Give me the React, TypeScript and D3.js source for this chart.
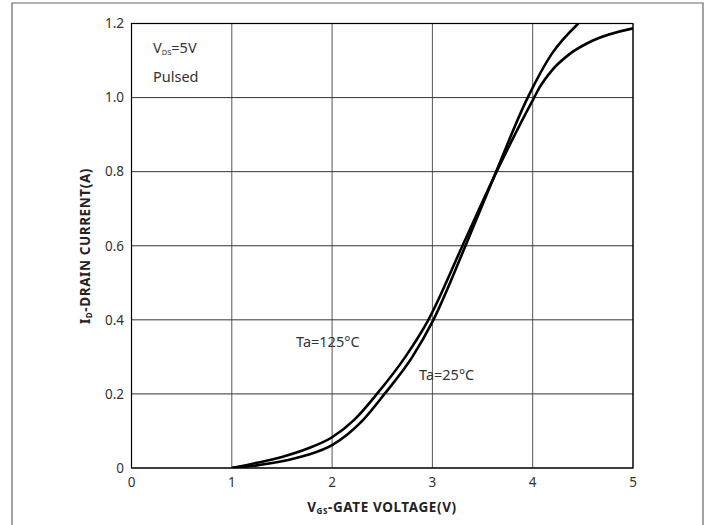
import React from "react";
import * as d3 from "d3";

const xTicks = [0, 1, 2, 3, 4, 5];
const yTicks = [0, 0.2, 0.4, 0.6, 0.8, 1.0, 1.2];
const yTickLabels = ["0", "0.2", "0.4", "0.6", "0.8", "1.0", "1.2"];

const vgs125 = [1.0, 1.25, 1.5, 1.75, 2.0, 2.22, 2.447, 2.73, 2.96, 3.3, 3.64, 4.014, 4.07, 4.19, 4.37, 4.6, 5.0];
const id125 = [0, 0.014, 0.03, 0.052, 0.083, 0.13, 0.2, 0.3, 0.4, 0.6, 0.8, 1.0, 1.028, 1.073, 1.118, 1.154, 1.187];

const vgs25 = [1.0, 1.25, 1.5, 1.75, 2.0, 2.31, 2.523, 2.8, 3.01, 3.33, 3.635, 3.95, 4.19, 4.455];
const id25 = [0, 0.007, 0.018, 0.035, 0.062, 0.13, 0.2, 0.3, 0.4, 0.6, 0.8, 1.0, 1.118, 1.2];

const FONT = "'Noto Sans', 'Open Sans', sans-serif";

export default function App() {
  const left = 131.5, right = 633, top = 23.5, bottom = 468;
  const x = d3.scaleLinear().domain([0, 5]).range([left, right]);
  const y = d3.scaleLinear().domain([0, 1.2]).range([bottom, top]);
  const line = d3
    .line<[number, number]>()
    .x((d) => x(d[0]))
    .y((d) => y(d[1]))
    .curve(d3.curveMonotoneX);
  const p125 = line(vgs125.map((v, i) => [v, id125[i]] as [number, number])) || "";
  const p25 = line(vgs25.map((v, i) => [v, id25[i]] as [number, number])) || "";

  return (
    <svg
      width={710}
      height={525}
      style={{ position: "absolute", left: 0, top: 0, background: "#fff" }}
      fontFamily={FONT}
    >
      <defs>
        <clipPath id="plot">
          <rect x={left} y={top - 0.5} width={right - left} height={bottom - top + 0.5} />
        </clipPath>
      </defs>
      {/* outer frame */}
      <path d="M12,530 V3 H703 V530" fill="none" stroke="#666" strokeWidth={1.2} />
      {/* grid */}
      {xTicks.map((t) => (
        <line key={"vx" + t} x1={x(t)} x2={x(t)} y1={top} y2={bottom} stroke="#555" strokeWidth={1} />
      ))}
      {yTicks.map((t) => (
        <line key={"hy" + t} x1={left} x2={right} y1={y(t)} y2={y(t)} stroke="#333" strokeWidth={1} />
      ))}
      <rect x={left} y={top} width={right - left} height={bottom - top} fill="none" stroke="#000" strokeWidth={1.2} />
      {/* curves */}
      <g clipPath="url(#plot)">
        <path d={p125} fill="none" stroke="#000" strokeWidth={2.6} />
        <path d={p25} fill="none" stroke="#000" strokeWidth={2.6} />
      </g>
      {/* tick labels */}
      {xTicks.map((t) => (
        <text key={"xl" + t} x={x(t)} y={487} textAnchor="middle" fontSize={13.5} fill="#333">
          {t}
        </text>
      ))}
      {yTicks.map((t, i) => (
        <text key={"yl" + t} x={124} y={y(t) + 4.8} textAnchor="end" fontSize={13.5} fill="#333">
          {yTickLabels[i]}
        </text>
      ))}
      {/* annotations */}
      <text x={153} y={53} fontSize={14.5} fill="#333">
        V<tspan fontSize={7.5} dy={2}>DS</tspan>
        <tspan dy={-2}>=5V</tspan>
      </text>
      <text x={153} y={81.5} fontSize={14.5} fill="#333">Pulsed</text>
      <text x={296} y={346.5} fontSize={14.5} fill="#333">Ta=125°C</text>
      <text x={419} y={379.5} fontSize={14.5} fill="#333">Ta=25°C</text>
      {/* axis titles */}
      <text x={382} y={512} textAnchor="middle" fontSize={13.5} fontWeight="bold" fill="#222" letterSpacing={0.6}>
        V<tspan fontSize={8} dy={2}>GS</tspan>
        <tspan dy={-2}>-GATE VOLTAGE(V)</tspan>
      </text>
      <text
        transform={`translate(90, 246) rotate(-90)`}
        textAnchor="middle"
        fontSize={13.5}
        fontWeight="bold"
        fill="#222"
        letterSpacing={0.6}
      >
        I<tspan fontSize={8} dy={2}>D</tspan>
        <tspan dy={-2}>-DRAIN CURRENT(A)</tspan>
      </text>
    </svg>
  );
}
